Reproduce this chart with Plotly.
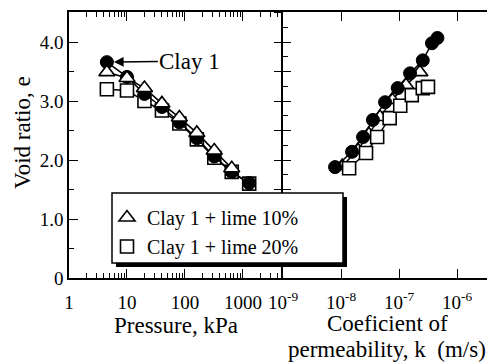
import math
import plotly.graph_objects as go

# ---------------- data ----------------
pressure_kpa = [4.5, 10, 20, 40, 80, 160, 320, 640, 1280]
e_clay1_p = [3.66, 3.41, 3.12, 2.90, 2.64, 2.37, 2.06, 1.80, 1.61]
pressure_lime10 = [4.5, 10, 20, 40, 80, 160, 320, 640]
e_lime10_p = [3.49, 3.39, 3.22, 2.96, 2.72, 2.46, 2.16, 1.86]
e_lime20_p = [3.20, 3.18, 3.00, 2.84, 2.62, 2.35, 2.04, 1.80, 1.60]

k_clay1 = [7.9e-9, 1.55e-8, 2.4e-8, 3.55e-8, 5.75e-8, 9.5e-8, 1.55e-7, 2.57e-7, 3.7e-7, 4.6e-7]
e_clay1_k = [1.88, 2.14, 2.39, 2.68, 2.98, 3.22, 3.47, 3.69, 3.98, 4.07]
k_lime10 = [1.05e-8, 1.95e-8, 3.0e-8, 4.7e-8, 7.6e-8, 1.32e-7, 2.29e-7]
e_lime10_k = [1.90, 2.17, 2.44, 2.73, 3.02, 3.27, 3.49]
k_lime20 = [1.38e-8, 2.7e-8, 4.2e-8, 6.9e-8, 1.05e-7, 1.66e-7, 2.57e-7, 3.16e-7]
e_lime20_k = [1.86, 2.12, 2.39, 2.71, 2.92, 3.10, 3.22, 3.24]

p_tickvals = [1, 10, 100, 1000]
p_ticktext = ["1", "10", "100", "1000"]
p_minor = [m * d for d in (1, 10, 100, 1000) for m in range(2, 10) if m * d < 4900]
k_tickvals = [1e-9, 1e-8, 1e-7, 1e-6]
k_ticktext = ["10<sup>-9</sup>", "10<sup>-8</sup>", "10<sup>-7</sup>", "10<sup>-6</sup>"]
e_tickvals = [0, 1, 2, 3, 4]
e_ticktext = ["0", "1.0", "2.0", "3.0", "4.0"]
e_minor = [0.5, 1.5, 2.5, 3.5]

FONT = "Liberation Serif"
LINE = dict(color="black", width=1.5)

def circ():
    return dict(symbol="circle", size=13, color="black", line=dict(color="black", width=1))

def tri():
    return dict(symbol="triangle-up", size=14, color="white", line=dict(color="black", width=1.6))

def sq():
    return dict(symbol="square", size=13, color="white", line=dict(color="black", width=1.6))

fig = go.Figure()

def add_series(x, y, marker, xa, ya, name=None, legend=False, rank=None):
    fig.add_trace(go.Scatter(x=x, y=y, mode="lines", line=LINE, showlegend=False,
                             hoverinfo="skip", xaxis=xa, yaxis=ya))
    kw = dict(legendrank=rank) if rank else {}
    fig.add_trace(go.Scatter(x=x, y=y, mode="markers", marker=marker, name=name,
                             showlegend=legend, xaxis=xa, yaxis=ya, **kw))

# left panel
add_series(pressure_kpa, e_lime20_p, sq(), "x", "y", "Clay 1 + lime 20%", True, 2)
add_series(pressure_kpa, e_clay1_p, circ(), "x", "y", "Clay 1")
add_series(pressure_lime10, e_lime10_p, tri(), "x", "y", "Clay 1 + lime 10%", True, 1)
# right panel
add_series(k_lime10, e_lime10_k, tri(), "x2", "y2")
add_series(k_clay1, e_clay1_k, circ(), "x2", "y2")
add_series(k_lime20, e_lime20_k, sq(), "x2", "y2")
# helper (empty) for the outward tick axis at the divider
fig.add_trace(go.Scatter(x=[], y=[], showlegend=False, xaxis="x2", yaxis="y3"))

# page has an 8px body margin: target pixel = figure pixel + 8
OFF = 8
W, H = 495, 363
L, T = 69 - OFF, 12 - OFF
R = OFF
B = H - (278 - OFF)
PW, PH = W - L - R, H - T - B
div = (283 - 69) / PW

def px(xp):
    return (xp - 69) / PW

def py(yp):
    return (278 - yp) / PH

tickfont = dict(family=FONT, size=19, color="black")
axcommon = dict(showline=True, linecolor="black", linewidth=1.5, showgrid=False,
                zeroline=False, tickcolor="black", tickwidth=1.2, tickfont=tickfont,
                automargin=False)
yr = [0, 4.51]

fig.update_layout(
    template="none",
    width=W, height=H,
    margin=dict(l=L, r=R, t=T, b=B, autoexpand=False),
    paper_bgcolor="white", plot_bgcolor="white",
    font=dict(family=FONT, color="black"),
    xaxis=dict(domain=[0, div], type="log", range=[0, math.log10(4900)], anchor="y",
               tickmode="array", tickvals=p_tickvals, ticktext=p_ticktext,
               ticks="inside", ticklen=9, mirror="ticks", ticklabelstandoff=6,
               minor=dict(tickmode="array", tickvals=p_minor, ticks="inside",
                          ticklen=5, tickcolor="black", tickwidth=1),
               **axcommon),
    yaxis=dict(domain=[0, 1], range=yr, anchor="x",
               tickmode="array", tickvals=e_tickvals, ticktext=e_ticktext,
               ticks="inside", ticklen=9,
               minor=dict(tickmode="array", tickvals=e_minor, ticks="inside",
                          ticklen=5, tickcolor="black", tickwidth=1),
               **axcommon),
    xaxis2=dict(domain=[div, 1], type="log", range=[-9, -9 + 212 / 58], anchor="y2",
                tickmode="array", tickvals=k_tickvals, ticktext=k_ticktext,
                ticks="inside", ticklen=9, mirror="ticks", ticklabelstandoff=6,
                **axcommon),
    yaxis2=dict(domain=[0, 1], range=yr, anchor="x2",
                tickmode="linear", tick0=0, dtick=0.5, ticks="inside", ticklen=8,
                showticklabels=False, mirror="ticks",
                minor=dict(tick0=0, dtick=0.25, ticks="inside", ticklen=5,
                           tickcolor="black", tickwidth=1),
                **axcommon),
    yaxis3=dict(overlaying="y2", anchor="x2", side="left", range=yr,
                tickmode="linear", tick0=0, dtick=0.5, ticks="outside", ticklen=8,
                tickcolor="black", tickwidth=1.2, showticklabels=False,
                showline=False, showgrid=False, zeroline=False, automargin=False),
    legend=dict(x=px(107), y=py(198), xanchor="left", yanchor="top",
                bgcolor="rgba(0,0,0,0)", borderwidth=0,
                font=dict(family=FONT, size=20, color="black"),
                tracegroupgap=0),
    showlegend=True,
)

# legend box with shadow
fig.add_shape(type="rect", xref="paper", yref="paper",
              x0=px(116), x1=px(347), y0=py(267), y1=py(197),
              fillcolor="black", line=dict(width=0), layer="above")
fig.add_shape(type="rect", xref="paper", yref="paper",
              x0=px(112), x1=px(343), y0=py(263), y1=py(193),
              fillcolor="white", line=dict(color="black", width=1.5), layer="above")

titlefont = dict(family=FONT, size=23, color="black")
ann = dict(xref="paper", yref="paper", showarrow=False, font=titlefont,
           xanchor="center", yanchor="middle")
fig.add_annotation(text="Void ratio, e", x=px(22), y=py(133), textangle=-90, **ann)
fig.add_annotation(text="Pressure, kPa", x=px(176), y=py(325), **ann)
fig.add_annotation(text="Coeficient of", x=px(387), y=py(323), **ann)
fig.add_annotation(text="permeability, k\u00a0 (m/s)", x=px(387), y=py(349), **ann)

# Clay 1 arrow label
fig.add_annotation(text="Clay 1", xref="x", yref="y",
                   x=math.log10(pressure_kpa[0]), y=e_clay1_p[0],
                   ax=83, ay=-1, showarrow=True, arrowhead=2, arrowsize=1.3,
                   arrowwidth=1.5, arrowcolor="black", standoff=7,
                   font=dict(family=FONT, size=23, color="black"))

fig.write_html("out.html")
